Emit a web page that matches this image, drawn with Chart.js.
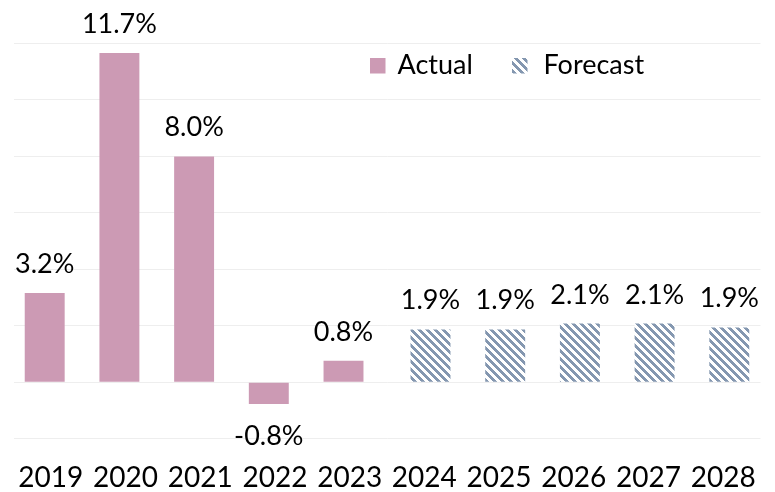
<!DOCTYPE html>
<html><head><meta charset="utf-8">
<script src="https://cdn.jsdelivr.net/npm/chart.js@4.4.1/dist/chart.umd.min.js"></script>
<style>html,body{margin:0;padding:0;background:#fff}#wrap{width:775px;height:492px}</style>
</head><body><div id="wrap"><canvas id="c" width="775" height="492"></canvas></div>
<script>
const years = ['2019','2020','2021','2022','2023','2024','2025','2026','2027','2028'];
const actual = [3.16, 11.66, 8.0, -0.77, 0.76, null, null, null, null, null];
const forecast = [null, null, null, null, null, 1.87, 1.87, 2.08, 2.08, 1.94];
const seriesNames = ['Actual', 'Forecast'];
const yMin = -2, yMax = 12, yStep = 2;

const PINK = '#cc9ab4';
const HATCH = '#8497b0';

function makeHatch() {
  const s = 8;
  const cv = document.createElement('canvas');
  cv.width = s; cv.height = s;
  const g = cv.getContext('2d');
  const img = g.createImageData(s, s);
  const r = parseInt(HATCH.slice(1,3),16), gg = parseInt(HATCH.slice(3,5),16), b = parseInt(HATCH.slice(5,7),16);
  for (let y = 0; y < s; y++) for (let x = 0; x < s; x++) {
    const i = (y*s + x)*4;
    const on = (((x - y) % s) + s) % s < 4;
    img.data[i] = on ? r : 255; img.data[i+1] = on ? gg : 255; img.data[i+2] = on ? b : 255; img.data[i+3] = 255;
  }
  g.putImageData(img, 0, 0);
  return document.getElementById('c').getContext('2d').createPattern(cv, 'repeat');
}
const hatch = makeHatch();

const FONT = 'Lato';

const labelPlugin = {
  id: 'valueLabels',
  afterDatasetsDraw(chart) {
    const ctx = chart.ctx;
    ctx.save();
    ctx.font = '27px ' + FONT;
    ctx.fillStyle = '#000';
    ctx.textAlign = 'center';
    ctx.textBaseline = 'alphabetic';
    chart.data.datasets.forEach((ds, i) => {
      const meta = chart.getDatasetMeta(i);
      meta.data.forEach((bar, j) => {
        const v = ds.data[j];
        if (v === null || v === undefined) return;
        const t = v.toFixed(1) + '%';
        if (v >= 0) ctx.fillText(t, bar.x, bar.y - 20);
        else ctx.fillText(t, bar.x, bar.y + 41);
      });
    });
    ctx.restore();
  }
};

const legendPlugin = {
  id: 'customLegend',
  afterDraw(chart) {
    const ctx = chart.ctx;
    const a = chart.chartArea;
    const y0 = 58;
    const items = [
      {x: a.left + 356.5, tx: a.left + 384, fill: PINK, text: seriesNames[0]},
      {x: a.left + 498.5, tx: a.left + 530, fill: hatch, text: seriesNames[1]}
    ];
    ctx.save();
    ctx.font = '27px ' + FONT;
    ctx.textBaseline = 'alphabetic';
    ctx.textAlign = 'left';
    items.forEach(it => {
      ctx.fillStyle = it.fill;
      ctx.fillRect(it.x, y0, 15.5, 15.5);
      ctx.fillStyle = '#000';
      ctx.fillText(it.text, it.tx, y0 + 15.5);
    });
    ctx.restore();
  }
};

new Chart(document.getElementById('c'), {
  type: 'bar',
  data: {
    labels: years,
    datasets: [
      {label: seriesNames[0], data: actual, backgroundColor: PINK, borderWidth: 0},
      {label: seriesNames[1], data: forecast, backgroundColor: hatch, borderWidth: 0}
    ]
  },
  options: {
    responsive: false,
    animation: false,
    devicePixelRatio: 1,
    categoryPercentage: 0.329,
    barPercentage: 3.25,
    layout: {padding: {left: 13.5, right: 14.5, top: 43.5, bottom: 0}},
    plugins: {legend: {display: false}, tooltip: {enabled: false}},
    scales: {
      x: {
        grid: {display: false, drawTicks: false},
        border: {display: false},
        ticks: {font: {family: FONT, size: 28}, color: '#000', padding: 22.5, maxRotation: 0, autoSkip: false},
        afterFit(scale) { scale.height = 53.3; scale.paddingLeft = 0; scale.paddingRight = 0; }
      },
      y: {
        min: yMin, max: yMax,
        ticks: {display: false, stepSize: yStep},
        grid: {color: '#eeeeee', drawTicks: false, lineWidth: 1},
        border: {display: false}
      }
    }
  },
  plugins: [labelPlugin, legendPlugin]
});
</script>
</body></html>
